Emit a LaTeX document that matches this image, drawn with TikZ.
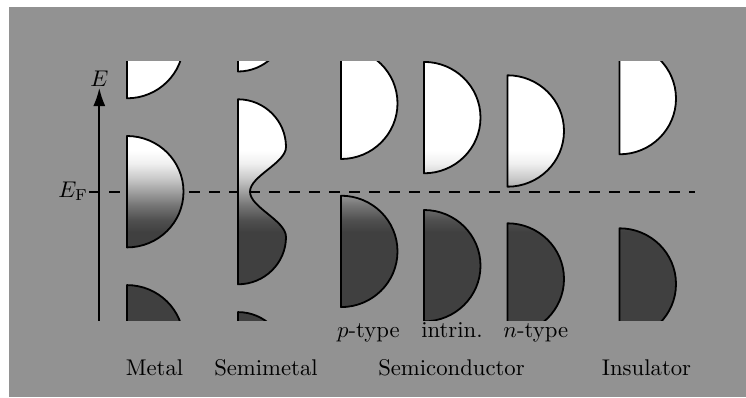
\documentclass[tikz,border=0pt]{standalone}
\usetikzlibrary{arrows.meta}

\definecolor{panel}{RGB}{146,146,146}
\definecolor{bandlo}{RGB}{64,64,64}

% Fermi-Dirac occupation: filled (dark) below E_F, empty (white) above.
% The shaded box maps onto 25bp..75bp of this shading.
\pgfdeclareverticalshading{fermi}{100bp}{%
  color(0bp)=(bandlo); color(42.1bp)=(bandlo);
  color(44.4bp)=(bandlo!92!white); color(47.3bp)=(bandlo!72!white);
  color(49.9bp)=(bandlo!50!white); color(52.5bp)=(bandlo!28!white);
  color(55.4bp)=(bandlo!8!white); color(57.9bp)=(white);
  color(100bp)=(white)}

\tikzset{
  % half-ellipse density of states: left edge x, centre energy y
  band/.style 2 args={insert path={
    (#1,{#2-55.7}) .. controls ({#1+31.2},{#2-55.7}) and ({#1+56.5},{#2-30.8}) .. ({#1+56.5},#2)
    .. controls ({#1+56.5},{#2+30.8}) and ({#1+31.2},{#2+55.7}) .. (#1,{#2+55.7}) -- cycle}},
  % two overlapping bands of a semimetal, shifted by #1
  semiband/.style={insert path={
    (238,{99.3+(#1)}) .. controls (264.5,{99.3+(#1)}) and (286,{120.7+(#1)}) .. (286,{147+(#1)})
    .. controls (286,{163+(#1)}) and (250,{176+(#1)}) .. (250,{191.7+(#1)})
    .. controls (250,{207.4+(#1)}) and (286,{220.4+(#1)}) .. (286,{237+(#1)})
    .. controls (286,{263.1+(#1)}) and (264.5,{284.3+(#1)}) .. (238,{284.3+(#1)}) -- cycle}},
  allbands/.style={
    band={127}{42.6}, band={127}{191.7}, band={127}{340.8},
    semiband=-212.8, semiband=0, semiband=212.8,
    band={341}{103.3}, band={341}{251.4},
    band={424}{117.6}, band={424}{265.7},
    band={507.5}{131}, band={507.5}{279},
    band={619.5}{98.6}, band={619.5}{284}},
  outline/.style={draw=black, line width=1.8bp, line join=round},
  fermiline/.style={line width=1.7bp, dash pattern=on 10.5bp off 9.5bp},
  energyaxis/.style={line width=1.7bp, -{Latex[length=18bp,width=12bp]}},
  lbl/.style={scale=2.28, inner sep=0pt, anchor=base},
}

\begin{document}
\begin{tikzpicture}[x=1bp, y=-1bp]
  \useasboundingbox (0,0) rectangle (746,397);
  \fill[white] (0,0) rectangle (746,397);
  \fill[panel] (9,7) rectangle (746,397);

  % Fermi level
  \coordinate (ef0) at (89.3,191.7);
  \coordinate (ef1) at (695,191.7);
  \draw[fermiline] (ef0) -- (ef1);

  % energy axis
  \coordinate (ax0) at (99.3,320.7);
  \coordinate (ax1) at (99.3,88);
  \draw[energyaxis] (ax0) -- (ax1);

  % bands
  \begin{scope}
    \clip (0,61.7) rectangle (746,320.7);
    \begin{scope}
      \clip[allbands];
      \shade[shading=fermi] (0,61.7) rectangle (746,320.7);
    \end{scope}
    \path[outline, allbands];
  \end{scope}

  % labels
  \node[lbl] (elabel) at (99.3,86) {$E$};
  \node[lbl, anchor=base east] (eflabel) at (88.5,197.3) {$E_{\mathrm{F}}$};
  \node[lbl] (ptype) at (368.5,337.3) {$p$-type};
  \node[lbl] (intrin) at (452,337.3) {intrin.};
  \node[lbl] (ntype) at (535.8,337.3) {$n$-type};
  \node[lbl] (metal) at (154.5,375) {Metal};
  \node[lbl] (semimetal) at (266,375) {Semimetal};
  \node[lbl] (semicond) at (451.5,375) {Semiconductor};
  \node[lbl] (insulator) at (646.5,375) {Insulator};
\end{tikzpicture}
\end{document}
